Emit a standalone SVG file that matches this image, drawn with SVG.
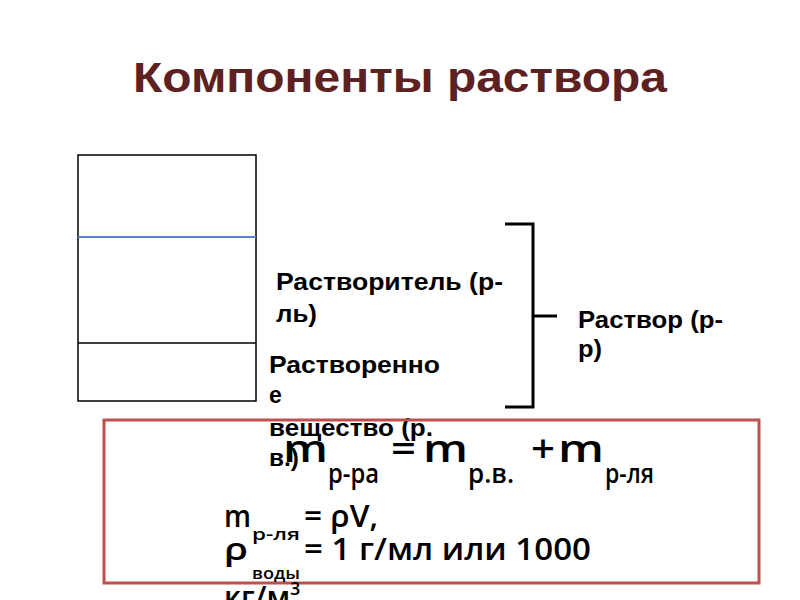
<svg xmlns="http://www.w3.org/2000/svg" width="800" height="600" viewBox="0 0 800 600">
  <defs>
    <style>
      .title { font-family: "Liberation Sans", Arial, sans-serif; font-weight: bold; font-size: 42px; fill: #5e2121; }
      .lbl { font-family: "Liberation Sans", Arial, sans-serif; font-weight: bold; font-size: 23px; fill: #000; }
      .f1 { font-family: "Open Sans", "Liberation Sans", sans-serif; font-weight: 600; fill: #000; }
      .f2 { font-family: "Open Sans", "Liberation Sans", sans-serif; font-weight: 600; fill: #000; }
      .vessel { stroke: #000; stroke-width: 1.5; fill: none; }
      .brace { stroke: #000; stroke-width: 3; fill: none; }
    </style>
  </defs>
  <rect width="800" height="600" fill="#fff"/>

  <text class="title" x="133" y="92" textLength="534" lengthAdjust="spacingAndGlyphs">Компоненты раствора</text>

  <g id="vessel">
    <rect x="78" y="155" width="178" height="246" class="vessel"/>
    <line x1="78" y1="237" x2="256" y2="237" stroke="#5b84c0" stroke-width="2"/>
    <line x1="78" y1="343" x2="256" y2="343" class="vessel"/>
  </g>

  <g id="solvent">
    <text class="lbl" x="276" y="290" textLength="227" lengthAdjust="spacingAndGlyphs">Растворитель (р-</text>
    <text class="lbl" x="276" y="322" textLength="41" lengthAdjust="spacingAndGlyphs">ль)</text>
  </g>

  <g id="solute">
    <text class="lbl" x="269" y="373" textLength="171" lengthAdjust="spacingAndGlyphs">Растворенно</text>
    <text class="lbl" x="269" y="403">е</text>
    <text class="lbl" x="269" y="436" textLength="164" lengthAdjust="spacingAndGlyphs">вещество (р.</text>
    <text class="lbl" x="269" y="466" textLength="30" lengthAdjust="spacingAndGlyphs">в.)</text>
  </g>

  <g id="connectors">
    <polyline class="brace" points="505,224 533,224 533,407 505,407"/>
    <line class="brace" x1="533" y1="316" x2="557" y2="316"/>
  </g>

  <g id="solution">
    <text class="lbl" x="578" y="328" textLength="145" lengthAdjust="spacingAndGlyphs">Раствор (р-</text>
    <text class="lbl" x="578" y="357" textLength="24" lengthAdjust="spacingAndGlyphs">р)</text>
  </g>

  <g id="formula-box">
    <rect x="104" y="420" width="655" height="163" fill="none" stroke="#c0504d" stroke-width="3"/>
    <text class="f1" font-size="38" x="283" y="462" textLength="45" lengthAdjust="spacingAndGlyphs">m</text>
    <text class="f1" font-size="27" x="328" y="483" textLength="51" lengthAdjust="spacingAndGlyphs">р-ра</text>
    <text class="f1" font-size="38" x="391" y="462" textLength="25" lengthAdjust="spacingAndGlyphs">=</text>
    <text class="f1" font-size="38" x="423" y="462" textLength="45" lengthAdjust="spacingAndGlyphs">m</text>
    <text class="f1" font-size="27" x="468" y="483" textLength="46" lengthAdjust="spacingAndGlyphs">р.в.</text>
    <text class="f1" font-size="38" x="531" y="462" textLength="24" lengthAdjust="spacingAndGlyphs">+</text>
    <text class="f1" font-size="38" x="558" y="462" textLength="46" lengthAdjust="spacingAndGlyphs">m</text>
    <text class="f1" font-size="27" x="605" y="483" textLength="49" lengthAdjust="spacingAndGlyphs">р-ля</text>

    <text class="f2" font-size="30" x="224" y="527" textLength="27" lengthAdjust="spacingAndGlyphs">m</text>
    <text class="f2" font-size="17" x="252" y="540" textLength="48" lengthAdjust="spacingAndGlyphs">р-ля</text>
    <text class="f2" font-size="30" x="304" y="527" textLength="74" lengthAdjust="spacingAndGlyphs">= ρV,</text>
    <text class="f2" font-size="30" x="224" y="560" textLength="24" lengthAdjust="spacingAndGlyphs">ρ</text>
    <text class="f2" font-size="17" x="252" y="579" textLength="48" lengthAdjust="spacingAndGlyphs">воды</text>
    <text class="f2" font-size="30" x="304" y="560" textLength="287" lengthAdjust="spacingAndGlyphs">= 1 г/мл или 1000</text>
    <text class="f2" font-size="30" x="224" y="608">кг/м<tspan font-size="18" dy="-13">3</tspan></text>
  </g>
</svg>
